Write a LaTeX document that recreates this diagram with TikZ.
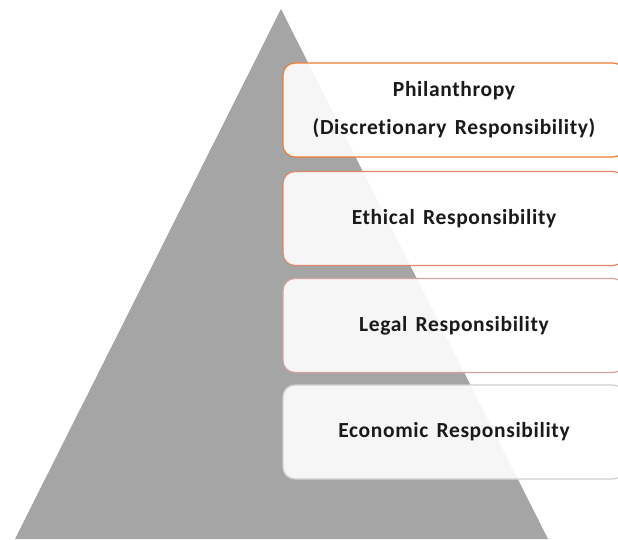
\documentclass[tikz,border=0pt]{standalone}
\usepackage{fontspec}
\setmainfont{Carlito}[LetterSpace=3, WordSpace=1.5, Ligatures={NoCommon}]
\usepackage{tikz}

\definecolor{pyramidgray}{HTML}{A5A5A5}
\definecolor{tierone}{HTML}{ED7D31}
\definecolor{tiertwo}{HTML}{E2866A}
\definecolor{tierthree}{HTML}{D6A3A0}
\definecolor{tierfour}{HTML}{D0D0D0}
\definecolor{tiertext}{HTML}{1A1A1A}

\begin{document}
\begin{tikzpicture}[x=1pt, y=1pt,
    tier/.style={draw, line width=1.2pt, rounded corners=12pt,
        fill=white, fill opacity=0.9, text opacity=1, text=tiertext,
        minimum width=342pt, minimum height=94pt,
        align=center, font=\fontsize{21.5}{38}\selectfont\bfseries}
    ]

    \useasboundingbox (0,0) rectangle (618,539);
    \clip (0,0) rectangle (618,539);

    % the pyramid
    \fill[pyramidgray] (15,0) -- (281,530) -- (548,0) -- cycle;

    % the four tiers, top to bottom
    \node[tier, draw=tierone] (phil) at (454,429) {Philanthropy\\(Discretionary Responsibility)};

    \node[tier, draw=tiertwo] (ethic) at (454,320.5) {Ethical Responsibility};

    \node[tier, draw=tierthree] (legal) at (454,213.5) {Legal Responsibility};

    \node[tier, draw=tierfour] (econ) at (454,107) {Economic Responsibility};

\end{tikzpicture}
\end{document}
